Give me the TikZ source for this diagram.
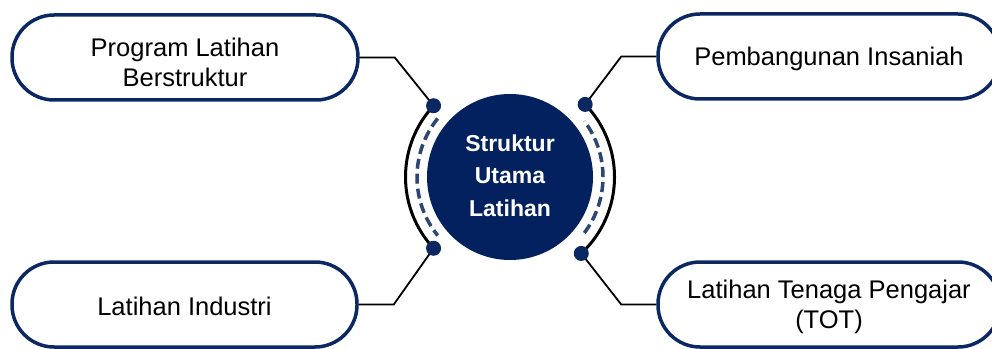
\documentclass[tikz,border=0pt]{standalone}
\usepackage{fontspec}
\setmainfont{Liberation Sans}
\usetikzlibrary{calc}
\definecolor{navy}{HTML}{0B2862}
\definecolor{corefill}{HTML}{03215F}
\definecolor{dashblue}{HTML}{2E4673}
\begin{document}
\begin{tikzpicture}[x=1pt,y=1pt,
  pill/.style={draw=navy, line width=3.5pt, fill=white, rounded corners=42pt, minimum width=#1, minimum height=85pt, inner sep=0pt},
  pilltext/.style={font=\fontsize{25.5}{30}\selectfont, align=center, inner sep=0pt, text=black},
  link/.style={draw=black, line width=1.8pt},
  dotc/.style={circle, fill=navy, minimum size=15pt, inner sep=0pt},
  ringarc/.style={draw=black, line width=3pt},
  dasharc/.style={draw=dashblue, line width=3.5pt, dash pattern=on 10pt off 5pt}
]
\useasboundingbox (0,0) rectangle (992,348);
\coordinate (c) at (510,171);
% boxes
\node[pill=346] (tl) at (185,290.5) {};
\node[pilltext] (tlt) at (185,285.5) {Program Latihan\\Berstruktur};
\node[pill=342] (tr) at (829,291.5) {};
\node[pilltext] (trt) at (829,289.3) {Pembangunan Insaniah};
\node[pill=345] (bl) at (184.5,43.5) {};
\node[pilltext] (blt) at (184.5,41.5) {Latihan Industri};
\node[pill=342] (br) at (829,43.5) {};
\node[pilltext] (brt) at (829,41) {Latihan Tenaga Pengajar\\(TOT)};
% arcs
\draw[ringarc] ($(c)+(137:104.5)$) arc[start angle=137, end angle=223, radius=104.5];
\draw[ringarc] ($(c)+(-47:104.5)$) arc[start angle=-47, end angle=44, radius=104.5];
\draw[dasharc] ($(c)+(141:93)$) arc[start angle=141, end angle=219, radius=93];
\draw[dasharc] ($(c)+(-37:93)$) arc[start angle=-37, end angle=37, radius=93];
% core
\node[circle, fill=corefill, minimum size=166pt, inner sep=0pt] (core) at (c) {};
\node[font=\bfseries\fontsize{23}{32.5}\selectfont, text=white, align=center, inner sep=0pt] (coret) at (510,172.5) {Struktur\\Utama\\Latihan};
% dots
\coordinate (dtlc) at ($(c)+(137:104.5)$);
\coordinate (dblc) at ($(c)+(223:104.5)$);
\coordinate (dtrc) at ($(c)+(44:104.5)$);
\coordinate (dbrc) at ($(c)+(-47:104.5)$);
% elbows
\coordinate (etl) at ($(tl.east)+(35,0)$);
\coordinate (ebl) at ($(bl.east)+(35,0)$);
\coordinate (etr) at ($(tr.west)+(-35,0)$);
\coordinate (ebr) at ($(br.west)+(-35,0)$);
\draw[link] (dtlc) -- (etl) -- (tl.east);
\draw[link] (dblc) -- (ebl) -- (bl.east);
\draw[link] (dtrc) -- (etr) -- (tr.west);
\draw[link] (dbrc) -- (ebr) -- (br.west);
\node[dotc] (dtl) at (dtlc) {};
\node[dotc] (dbl) at (dblc) {};
\node[dotc] (dtr) at (dtrc) {};
\node[dotc] (dbr) at (dbrc) {};
\end{tikzpicture}
\end{document}
